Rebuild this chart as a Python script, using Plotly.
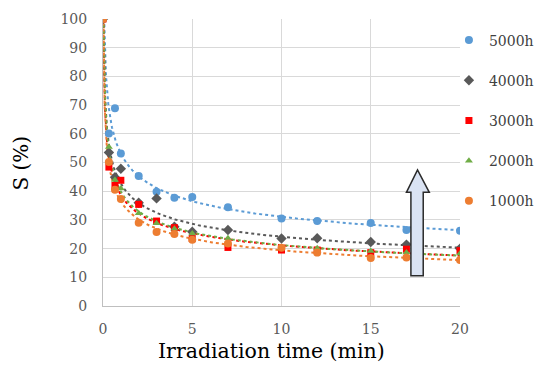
import numpy as np
import plotly.graph_objects as go

# ---- data ----
time_min = [0, 0.33, 0.67, 1, 2, 3, 4, 5, 7, 10, 12, 15, 17, 20]
s_5000h = [100, 60.1, 68.9, 53.1, 45.3, 39.8, 37.7, 38.0, 34.4, 30.5, 29.6, 28.9, 26.5, 26.2]
s_4000h = [100, 53.5, 44.9, 47.8, 36.0, 37.5, 27.6, 25.9, 26.5, 23.5, 23.6, 22.3, 21.4, 20.0]
s_3000h = [100, 48.4, 42.0, 43.8, 35.4, 29.6, 27.3, 23.5, 20.4, 19.5, 19.5, 18.6, 19.8, 19.3]
s_2000h = [100, 55.4, 43.9, 40.9, 32.3, 28.8, 26.9, 25.3, 23.6, 20.3, 20.1, 19.2, 18.6, 18.3]
s_1000h = [100, 50.2, 40.5, 37.3, 29.0, 25.8, 25.1, 23.1, 21.8, 20.3, 18.6, 16.7, 16.9, 16.0]

series_names = ["5000h", "4000h", "3000h", "2000h", "1000h"]
series_values = [s_5000h, s_4000h, s_3000h, s_2000h, s_1000h]

x_ticks = [0, 5, 10, 15, 20]
y_ticks = [0, 10, 20, 30, 40, 50, 60, 70, 80, 90, 100]
x_title = "Irradiation time (min)"
y_title = "S (%)"

# ---- styles ----
colors = ["#5B9BD5", "#595959", "#FF0000", "#70AD47", "#ED7D31"]
symbols = ["circle", "diamond", "square", "triangle-up", "circle"]
sizes = [8, 8, 7, 7, 8]
FONT = "'DejaVu Serif', 'Liberation Serif', serif"

fig = go.Figure()

# power-law trendlines (fitted to the data, x>0), drawn first
xs_fit = np.concatenate([np.geomspace(0.003, 1, 120), np.linspace(1.01, 20, 120)])
for name, vals, col in zip(series_names, series_values, colors):
    t = np.array(time_min, float)
    v = np.array(vals, float)
    m = t > 0
    b, ln_a = np.polyfit(np.log(t[m]), np.log(v[m]), 1)
    yfit = np.exp(ln_a) * xs_fit ** b
    keep = yfit <= 101
    fig.add_trace(go.Scatter(x=xs_fit[keep], y=yfit[keep], mode="lines",
                             line=dict(color=col, width=2, dash="dot"),
                             showlegend=False, hoverinfo="skip"))

for i, (name, vals, col, sym, sz) in enumerate(zip(series_names, series_values, colors, symbols, sizes)):
    fig.add_trace(go.Scatter(x=time_min, y=vals, mode="markers", name=name,
                             legendgroup=name,
                             marker=dict(color=col, symbol=sym, size=sz, line=dict(width=0))))

# arrow (annotation shape)
ax_l, ax_r, hx_l, hx_r, tip_x = 17.25, 17.94, 17.0, 18.28, 17.62
ay_b, ay_h, ay_t = 10.5, 39.6, 47.4
path = (f"M {ax_l} {ay_b} L {ax_l} {ay_h} L {hx_l} {ay_h} L {tip_x} {ay_t} "
        f"L {hx_r} {ay_h} L {ax_r} {ay_h} L {ax_r} {ay_b} Z")
fig.add_shape(type="path", path=path, xref="x", yref="y",
              fillcolor="#DAE3F3", line=dict(color="#2B2B2B", width=1.5), layer="above")

# axis titles as annotations (positioned like the reference)
fig.add_annotation(text=x_title, xref="paper", yref="paper", x=0.4706, y=-0.158,
                   xanchor="center", yanchor="middle", showarrow=False,
                   font=dict(family=FONT, size=20.5, color="#000000"))
fig.add_annotation(text=y_title, xref="paper", yref="paper", x=-0.2297, y=0.5,
                   xanchor="center", yanchor="middle", showarrow=False, textangle=-90,
                   font=dict(family=FONT, size=20, color="#000000"))

fig.update_layout(
    width=546, height=365,
    margin=dict(l=95, r=94, t=11, b=67, autoexpand=False),
    paper_bgcolor="white", plot_bgcolor="white",
    font=dict(family=FONT, size=14, color="#595959"),
    legend=dict(x=0.969, y=0.981, xanchor="left", yanchor="top",
                bgcolor="rgba(0,0,0,0)", tracegroupgap=19, itemwidth=30,
                font=dict(family=FONT, size=14, color="#404040")),
    xaxis=dict(range=[0, 20], tickvals=x_ticks, showgrid=True, gridcolor="#D9D9D9",
               gridwidth=1, zeroline=False, showline=True, linecolor="#BFBFBF", linewidth=1,
               ticks="", ticklen=0, automargin=False, ticklabelstandoff=10,
               ticklabeloverflow="allow"),
    yaxis=dict(range=[0, 100], tickvals=y_ticks, showgrid=True, gridcolor="#D9D9D9",
               gridwidth=1, zeroline=False, showline=True, linecolor="#BFBFBF", linewidth=1,
               ticks="", ticklen=0, automargin=False, ticklabelstandoff=12,
               ticklabeloverflow="allow"),
)

fig.write_html("out.html")
